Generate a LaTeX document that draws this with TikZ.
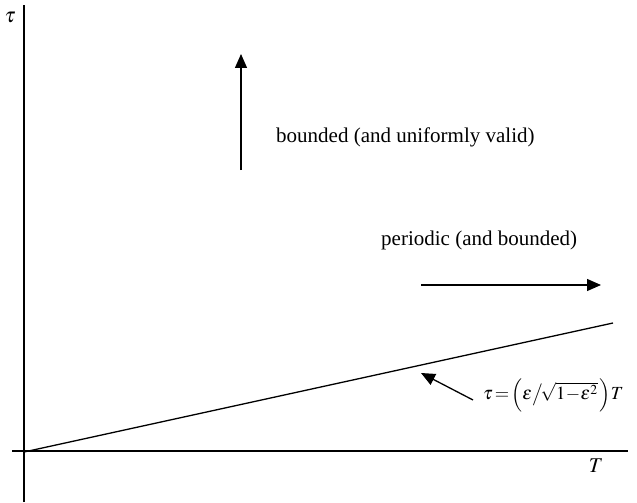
\documentclass[tikz,border=0pt]{standalone}
\usepackage{mathptmx}
\usepackage{fontspec}
\setmainfont{Liberation Serif}
\usetikzlibrary{arrows.meta}
\begin{document}
\begin{tikzpicture}[x=1pt,y=-1pt,
  ax/.style={line width=1.3pt},
  arr/.style={line width=1.3pt,-{Triangle[length=14pt,width=12pt]}},
  lbl/.style={font=\fontsize{21}{25}\selectfont,inner sep=0pt}]
\useasboundingbox (0,0) rectangle (637,503);
\coordinate (ytop) at (24,5);
\coordinate (ybot) at (24,502);
\coordinate (xl) at (12,451);
\coordinate (xr) at (628,451);
\draw[ax] (ybot) -- (ytop);
\draw[ax] (xl) -- (xr);
\coordinate (o) at (24,452);
\coordinate (le) at (613,323);
\draw[ax] (o) -- (le);
\coordinate (u1) at (241,170);
\coordinate (u2) at (241,54);
\draw[arr] (u1) -- (u2);
\coordinate (r1) at (421,285);
\coordinate (r2) at (601,285);
\draw[arr] (r1) -- (r2);
\coordinate (s1) at (473,400);
\coordinate (s2) at (421,373);
\draw[arr] (s1) -- (s2);
\node[lbl] (tau) at (10,17) {$\tau$};
\node[lbl] (T) at (596,466) {$T$};
\node[lbl,anchor=west] (b) at (276,137) {bounded (and uniformly valid)};
\node[lbl,anchor=west] (p) at (381,240) {periodic (and bounded)};
\node[lbl,anchor=west,font=\fontsize{18.5}{23}\selectfont] (f) at (483,395) {$\tau\!=\!\Bigl(\varepsilon\big/\!\sqrt{1\!-\!\varepsilon^2}\,\Bigr)T$};
\end{tikzpicture}
\end{document}
